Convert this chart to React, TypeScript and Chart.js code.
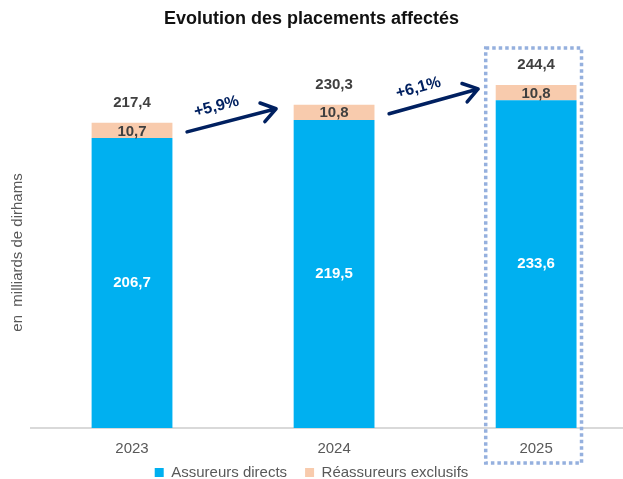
import React, { useEffect, useRef } from "react";
import { Chart, registerables } from "chart.js";
Chart.register(...registerables);

const years = ["2023", "2024", "2025"];
const directs = [206.7, 219.5, 233.6];
const exclusifs = [10.7, 10.8, 10.8];
const seriesNames = ["Assureurs directs", "Réassureurs exclusifs"];
const chartTitle = "Evolution des placements affectés";
const yTitle = "en  milliards de dirhams";
const yMax = 280;

const BLUE = "#00B0F0";
const PEACH = "#F8CBAD";
const NAVY = "#002060";
const DARK = "#404040";
const GREY = "#595959";
const FONT = "'Liberation Sans', Arial, sans-serif";

const fmt = (v: number) => v.toFixed(1).replace(".", ",");
const totals = directs.map((v, i) => Math.round((v + exclusifs[i]) * 10) / 10);

const annot = {
  id: "annot",
  afterDatasetsDraw(chart: any) {
    const ctx = chart.ctx;
    const m0 = chart.getDatasetMeta(0);
    const m1 = chart.getDatasetMeta(1);
    ctx.save();
    ctx.textAlign = "center";
    ctx.textBaseline = "middle";
    ctx.font = `bold 15px ${FONT}`;
    m0.data.forEach((b: any, i: number) => {
      ctx.fillStyle = "#FFFFFF";
      ctx.fillText(fmt(directs[i]), b.x, (b.y + b.base) / 2);
    });
    m1.data.forEach((b: any, i: number) => {
      ctx.fillStyle = DARK;
      ctx.fillText(fmt(exclusifs[i]), b.x, (b.y + b.base) / 2 + 1);
      ctx.fillText(fmt(totals[i]), b.x, b.y - 20);
    });
    // category labels under the axis
    ctx.font = `15px ${FONT}`;
    ctx.fillStyle = GREY;
    m0.data.forEach((b: any, i: number) => {
      ctx.fillText(years[i], b.x, chart.chartArea.bottom + 21);
    });
    // arrows with growth rates
    for (let i = 0; i < m1.data.length - 1; i++) {
      const b0 = m1.data[i];
      const b1 = m1.data[i + 1];
      const w = b0.width;
      const mid = (b0.x + w / 2 + (b1.x - w / 2)) / 2 - 2;
      const x1 = mid - 44, x2 = mid + 45;
      const y1 = b0.y + 9, y2 = b1.y + 4;
      const a = Math.atan2(y2 - y1, x2 - x1);
      ctx.strokeStyle = NAVY;
      ctx.lineWidth = 3.5;
      ctx.lineCap = "round";
      ctx.lineJoin = "round";
      ctx.beginPath();
      ctx.moveTo(x1, y1);
      ctx.lineTo(x2, y2);
      const L = 17, s = 0.6;
      ctx.moveTo(x2 - L * Math.cos(a - s), y2 - L * Math.sin(a - s));
      ctx.lineTo(x2, y2);
      ctx.lineTo(x2 - L * Math.cos(a + s), y2 - L * Math.sin(a + s));
      ctx.stroke();
      const g = (totals[i + 1] / totals[i] - 1) * 100;
      const label = "+" + g.toFixed(1).replace(".", ",") + "%";
      const px = x1 + 0.38 * (x2 - x1) + 17 * Math.sin(a);
      const py = y1 + 0.38 * (y2 - y1) - 17 * Math.cos(a);
      ctx.save();
      ctx.translate(px, py);
      ctx.rotate(a);
      ctx.fillStyle = NAVY;
      ctx.font = `bold 16px ${FONT}`;
      ctx.fillText(label, 0, 0);
      ctx.restore();
    }
    ctx.restore();
  },
  afterDraw(chart: any) {
    const ctx = chart.ctx;
    const m1 = chart.getDatasetMeta(1);
    const b = m1.data[m1.data.length - 1];
    const w = b.width;
    ctx.save();
    ctx.strokeStyle = "#95B0DE";
    ctx.lineWidth = 3.5;
    ctx.setLineDash([3.5, 3]);
    const left = b.x - w / 2 - 10;
    const right = b.x + w / 2 + 5;
    const top = b.y - 37;
    const bottom = chart.chartArea.bottom + 35;
    ctx.strokeRect(left, top, right - left, bottom - top);
    ctx.setLineDash([]);
    // chart title
    ctx.textAlign = "center";
    ctx.textBaseline = "middle";
    ctx.fillStyle = "#111111";
    ctx.font = `bold 18px ${FONT}`;
    ctx.fillText(chartTitle, chart.width / 2, 19);
    // y axis title
    ctx.translate(18, (chart.chartArea.top + chart.chartArea.bottom) / 2 + 21);
    ctx.rotate(-Math.PI / 2);
    ctx.fillStyle = GREY;
    ctx.font = `15px ${FONT}`;
    ctx.fillText(yTitle, 0, 0);
    ctx.restore();
  },
};

export default function App() {
  const ref = useRef<HTMLCanvasElement | null>(null);
  useEffect(() => {
    document.body.style.margin = "0";
    const canvas = ref.current;
    if (!canvas) return;
    const chart = new Chart(canvas, {
      type: "bar",
      data: {
        datasets: [
          {
            label: seriesNames[0],
            data: directs.map((v, i) => ({ x: i, y: v })),
            backgroundColor: BLUE,
            borderWidth: 0,
          },
          {
            label: seriesNames[1],
            data: exclusifs.map((v, i) => ({ x: i, y: v })),
            backgroundColor: PEACH,
            borderWidth: 0,
          },
        ],
      },
      options: {
        responsive: false,
        animation: false,
        layout: { padding: { left: 0, right: 0, top: 35, bottom: -11 } },
        datasets: { bar: { categoryPercentage: 1, barPercentage: 0.4 } } as any,
        scales: {
          x: {
            type: "linear",
            min: -0.5,
            max: 2.43,
            stacked: true,
            offset: false,
            grid: { display: false, drawTicks: false },
            border: { display: true, color: "#D9D9D9", width: 2 },
            ticks: { display: false },
            afterBuildTicks: (ax: any) => {
              ax.ticks = years.map((_, i) => ({ value: i }));
            },
            afterFit: (ax: any) => {
              ax.height = 19;
            },
          },
          y: {
            display: true,
            stacked: true,
            min: 0,
            max: yMax,
            ticks: { display: false },
            grid: { display: false, drawTicks: false },
            border: { display: false },
            afterFit: (ax: any) => {
              ax.width = 31;
            },
          },
        },
        plugins: {
          title: { display: false },
          legend: {
            position: "bottom",
            labels: {
              boxWidth: 9,
              boxHeight: 9,
              padding: 18,
              color: GREY,
              font: { size: 15, family: FONT },
            },
          },
          tooltip: { enabled: false },
        },
      } as any,
      plugins: [annot],
    });
    return () => chart.destroy();
  }, []);
  return (
    <div style={{ width: 623, height: 479 }}>
      <canvas ref={ref} width={623} height={479} style={{ display: "block" }} />
    </div>
  );
}
